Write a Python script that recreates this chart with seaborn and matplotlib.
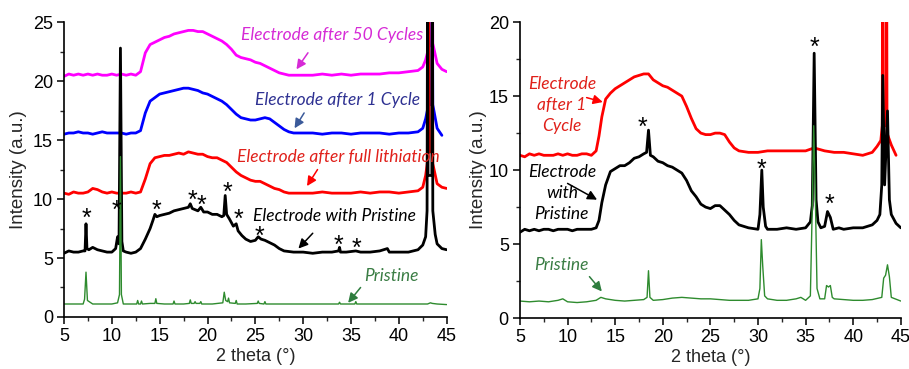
import matplotlib
matplotlib.use("Agg")
import matplotlib.pyplot as plt
import seaborn as sns
from matplotlib.ticker import MultipleLocator

# ---- left panel: XRD patterns (offset stacked) ----
lm_x = [5, 5.5, 6, 6.5, 7, 7.5, 8, 8.5, 9, 9.5, 10, 10.5, 11, 11.5, 12, 12.5,
        13, 13.5, 14, 14.5, 15, 15.5, 16, 16.5, 17, 17.5, 18, 18.5, 19, 19.5, 20, 20.5,
        21, 21.5, 22, 22.5, 23, 23.5, 24, 24.5, 25, 25.5, 26, 26.5, 27, 27.5, 28, 28.5, 29,
        30, 31, 32, 33, 34, 35, 36, 37, 38, 39, 40, 41, 42,
        42.5, 42.8, 43.05, 43.1, 43.15, 43.45, 43.5, 43.55, 44, 44.5, 45]
lm_y = [20.4, 20.6, 20.5, 20.6, 20.5, 20.6, 20.5, 20.6, 20.5, 20.5, 20.6, 20.5, 20.6, 20.5, 20.6, 20.5,
        20.8, 22.4, 23.1, 23.3, 23.5, 23.7, 23.8, 24.0, 24.1, 24.2, 24.3, 24.3, 24.2, 24.2, 24.0, 23.8,
        23.6, 23.4, 23.1, 22.7, 22.2, 22.0, 21.9, 21.8, 21.6, 21.5, 21.3, 21.1, 20.9, 20.7, 20.6, 20.5, 20.5,
        20.5, 20.5, 20.6, 20.5, 20.6, 20.5, 20.6, 20.6, 20.6, 20.7, 20.7, 20.8, 20.9,
        21.2, 21.8, 22.6, 30, 23.0, 23.0, 30, 23.2, 21.5, 21.0, 20.8]

lb_x = lm_x[:-1]
lb_y = [15.5, 15.6, 15.6, 15.7, 15.6, 15.6, 15.5, 15.6, 15.7, 15.6, 15.6, 15.6, 15.6, 15.5, 15.6, 15.6,
        15.8, 17.3, 18.3, 18.6, 18.9, 19.0, 19.1, 19.2, 19.3, 19.4, 19.4, 19.3, 19.2, 19.0, 18.9, 18.7,
        18.5, 18.3, 18.0, 17.6, 17.2, 16.9, 16.8, 16.7, 16.7, 16.8, 16.9, 16.8, 16.5, 16.2, 15.9, 15.7, 15.6,
        15.6, 15.6, 15.5, 15.6, 15.6, 15.5, 15.6, 15.6, 15.6, 15.5, 15.6, 15.6, 15.7,
        16.0, 16.8, 17.8, 30, 18.0, 18.0, 30, 18.0, 16.0, 15.4]

lr_x = lm_x
lr_y = [10.5, 10.4, 10.6, 10.5, 10.5, 10.6, 10.9, 10.8, 10.6, 10.5, 10.6, 10.5, 10.5, 10.5, 10.6, 10.5,
        10.6, 11.7, 13.0, 13.5, 13.6, 13.7, 13.7, 13.8, 13.9, 13.8, 14.0, 13.9, 13.8, 13.8, 13.6, 13.5,
        13.5, 13.3, 13.1, 12.7, 12.3, 12.0, 11.8, 11.6, 11.5, 11.5, 11.3, 11.1, 10.9, 10.8, 10.6, 10.5, 10.5,
        10.5, 10.5, 10.6, 10.5, 10.5, 10.5, 10.6, 10.5, 10.6, 10.6, 10.5, 10.6, 10.7,
        11.0, 12.0, 13.5, 30, 14.0, 14.0, 30, 13.0, 11.3, 11.0, 10.9]

lk_x = [5, 5.5, 6, 6.5, 7, 7.2, 7.3, 7.4, 7.6, 8, 8.5, 9, 9.5, 10, 10.4, 10.6, 10.75, 10.9,
        11.05, 11.2, 11.5, 12, 12.5, 13, 13.5, 14, 14.3, 14.5, 14.7, 15, 15.5, 16, 16.5, 17,
        17.5, 18, 18.2, 18.4, 19, 19.3, 19.6, 20, 20.5, 21, 21.5, 21.7, 21.85, 22.0, 22.3, 22.7,
        23.0, 23.2, 23.6, 24, 24.5, 25, 25.3, 25.6, 26, 26.5, 27, 27.5, 28, 29, 30, 31, 32, 33,
        33.7, 33.8, 33.9, 34.5, 35.5, 36, 37, 38, 38.8, 39, 40, 41, 42, 42.5, 42.8, 42.95, 43.0,
        43.05, 43.45, 43.5, 43.55, 43.8, 44.0, 44.5, 45]
lk_y = [5.4, 5.6, 5.5, 5.5, 5.6, 5.6, 7.9, 5.8, 5.7, 5.9, 5.7, 5.6, 5.5, 5.5, 5.8, 6.8, 6.2, 22.8,
        6.4, 5.6, 5.5, 5.4, 5.5, 5.8, 6.6, 7.5, 8.2, 8.7, 8.5, 8.6, 8.7, 8.8, 9.0, 9.1,
        9.2, 9.3, 9.6, 9.2, 9.0, 9.3, 8.9, 8.9, 8.7, 8.7, 8.5, 8.6, 10.3, 8.7, 8.3, 7.7,
        7.9, 7.3, 6.9, 6.6, 6.4, 6.5, 6.8, 6.6, 6.5, 6.3, 6.1, 5.8, 5.6, 5.5, 5.5, 5.4, 5.5, 5.5,
        5.6, 5.9, 5.5, 5.5, 5.6, 5.5, 5.5, 5.6, 5.8, 5.5, 5.5, 5.5, 5.7, 6.1, 6.8, 9.0, 30,
        12.0, 12.0, 30, 9.0, 7.0, 6.2, 5.8, 5.7]

lg_x = [5, 6, 7, 7.15, 7.3, 7.45, 8, 9, 10, 10.6, 10.8, 10.9, 11.0, 11.2, 12, 12.6, 12.7, 12.8,
        13.0, 13.1, 13.2, 14, 14.5, 14.6, 14.7, 15.5, 16.4, 16.5, 16.6, 17.5, 18.1, 18.2, 18.3,
        18.6, 18.7, 18.8, 19.2, 19.3, 19.4, 20.5, 21.6, 21.75, 21.9, 22.1, 22.2, 22.3, 22.9, 23.0,
        23.1, 24, 25.2, 25.3, 25.4, 25.9, 26.0, 26.1, 27, 28, 29, 30, 31, 32, 33.7, 33.8, 33.9,
        35.4, 35.5, 35.6, 37, 38.5, 40, 41, 42, 43, 43.3, 43.5, 44, 45]
lg_y = [1.1, 1.1, 1.1, 1.5, 3.8, 1.4, 1.1, 1.1, 1.1, 1.2, 1.9, 13.6, 1.9, 1.1, 1.1, 1.1, 1.4, 1.1,
        1.1, 1.35, 1.1, 1.15, 1.15, 1.55, 1.15, 1.1, 1.1, 1.35, 1.1, 1.1, 1.15, 1.45, 1.15,
        1.15, 1.3, 1.15, 1.15, 1.3, 1.1, 1.1, 1.2, 2.1, 1.4, 1.3, 1.6, 1.2, 1.15, 1.4,
        1.1, 1.1, 1.15, 1.35, 1.15, 1.1, 1.3, 1.1, 1.1, 1.1, 1.1, 1.1, 1.1, 1.1, 1.1, 1.25, 1.1,
        1.1, 1.3, 1.1, 1.1, 1.1, 1.1, 1.1, 1.1, 1.1, 1.2, 1.15, 1.1, 1.05]

left_stars_x = [7.4, 10.5, 14.7, 18.4, 19.4, 22.1, 23.2, 25.4, 33.7, 35.6]
left_stars_y = [8.9, 9.6, 9.6, 10.4, 10.0, 11.1, 8.8, 7.4, 6.6, 6.4]

# ---- right panel ----
rg_x = [5, 6, 7, 8, 9, 9.5, 10, 11, 12, 13, 13.5, 14, 15, 16, 17, 18, 18.35, 18.5, 18.65, 19,
        20, 21, 22, 23, 24, 25, 26, 27, 28, 29, 30, 30.2, 30.35, 30.5, 30.7, 31, 32, 33, 34, 34.5,
        35, 35.5, 35.7, 35.85, 36.0, 36.2, 36.5, 37, 37.2, 37.4, 37.6, 37.8, 38, 39, 40, 41, 42, 43,
        43.2, 43.4, 43.6, 43.8, 44, 45]
rg_y = [1.15, 1.1, 1.15, 1.1, 1.2, 1.3, 1.1, 1.05, 1.1, 1.2, 1.4, 1.3, 1.2, 1.15, 1.2, 1.25, 1.4, 3.2, 1.4, 1.2,
        1.25, 1.35, 1.4, 1.35, 1.3, 1.3, 1.25, 1.2, 1.2, 1.2, 1.3, 2.0, 5.3, 3.5, 1.5, 1.3, 1.2, 1.2, 1.3, 1.4,
        1.2, 1.5, 7.5, 13.0, 9.0, 2.0, 1.3, 1.3, 2.2, 2.1, 2.2, 1.4, 1.3, 1.25, 1.2, 1.2, 1.25, 1.4,
        2.7, 2.9, 3.6, 2.8, 1.4, 1.15]

rk_x = [5, 5.5, 6, 6.5, 7, 7.5, 8, 8.5, 9, 9.5, 10, 10.5, 11, 11.5, 12, 12.5, 13, 13.3, 13.6, 14,
        14.5, 15, 15.5, 16, 16.5, 17, 17.5, 18, 18.3, 18.5, 18.7, 19, 19.5, 20, 20.5, 21, 21.5, 22,
        22.5, 23, 23.5, 24, 24.5, 25, 25.5, 26, 26.5, 27, 27.5, 28, 28.5, 29, 30, 30.2, 30.4, 30.55,
        30.8, 31, 32, 33, 34, 35, 35.5, 35.7, 35.9, 36.1, 36.3, 36.6, 37, 37.3, 37.6, 37.9, 38.5, 39,
        40, 41, 42, 42.5, 42.8, 43.0, 43.1, 43.3, 43.6, 43.8, 44, 44.5, 45]
rk_y = [5.8, 6.0, 5.9, 6.0, 5.9, 6.0, 6.0, 5.9, 6.0, 6.0, 6.0, 5.9, 6.0, 6.0, 6.0, 6.0, 6.1, 6.6, 7.8, 9.0,
        9.9, 10.1, 10.3, 10.3, 10.5, 10.8, 10.9, 11.1, 11.2, 12.7, 11.0, 10.9, 10.6, 10.5, 10.3, 10.2, 10.0, 9.8,
        9.3, 8.6, 8.2, 7.7, 7.5, 7.4, 7.6, 7.6, 7.3, 7.0, 6.6, 6.3, 6.2, 6.1, 6.0, 7.0, 10.0, 7.5,
        6.2, 6.0, 6.0, 6.1, 6.0, 6.1, 6.5, 7.6, 17.9, 8.0, 6.5, 6.1, 6.2, 7.2, 6.8, 6.0, 6.1, 6.0,
        6.1, 6.1, 6.3, 6.6, 7.0, 9.0, 16.4, 9.0, 14.0, 8.0, 7.0, 6.4, 6.1]

rr_x = [5, 5.5, 6, 6.5, 7, 7.5, 8, 8.5, 9, 9.5, 10, 10.5, 11, 11.5, 12, 12.5, 13, 13.3, 13.6, 14,
        14.5, 15, 15.5, 16, 16.5, 17, 17.5, 18, 18.5, 19, 19.5, 20, 20.5, 21, 21.5, 22, 22.5, 23, 23.5, 24,
        24.5, 25, 25.5, 26, 26.5, 27, 27.5, 28, 29, 30, 31, 32, 33, 34, 35, 35.9, 37, 38, 39, 40,
        41, 42, 42.5, 42.9, 43.05, 43.1, 43.15, 43.45, 43.5, 43.55, 44, 44.5]
rr_y = [11.0, 10.9, 11.1, 11.0, 11.1, 11.0, 11.0, 11.0, 11.1, 11.0, 11.1, 11.0, 11.0, 11.1, 11.1, 11.0, 11.3, 12.3, 13.6, 14.8,
        15.2, 15.5, 15.7, 15.9, 16.1, 16.3, 16.4, 16.5, 16.5, 16.1, 15.9, 15.7, 15.6, 15.4, 15.2, 15.0, 14.3, 13.5, 12.8, 12.5,
        12.4, 12.4, 12.5, 12.5, 12.4, 11.9, 11.5, 11.3, 11.2, 11.2, 11.3, 11.3, 11.3, 11.3, 11.3, 11.5, 11.3, 11.2, 11.2, 11.1,
        11.0, 11.2, 11.6, 12.0, 13.0, 30, 13.0, 13.0, 30, 12.5, 11.7, 11.0]

right_stars_x = [17.9, 30.4, 35.9, 37.5]
right_stars_y = [13.3, 10.5, 18.7, 8.1]

MAGENTA, BLUE, RED, GREEN = "#ff00ff", "#0000ff", "#ff0000", "#2e8b2e"

sns.set_style("ticks")
plt.rcParams["font.family"] = ["Liberation Sans", "DejaVu Sans"]

fig = plt.figure(figsize=(9.09, 3.69), dpi=100)
ax1 = fig.add_axes([0.0704, 0.141, 0.421, 0.799])
ax2 = fig.add_axes([0.572, 0.138, 0.419, 0.802])


def trace(ax, x, y, color, lw=2.0):
    sns.lineplot(x=x, y=y, ax=ax, color=color, lw=lw, estimator=None, sort=False)


def label(ax, s, xy, color, tail, head, arrow_color=None, **kw):
    ax.text(xy[0], xy[1], s, color=color, ha="center", va="center", style="italic",
            family=["Lato", "DejaVu Sans"], fontsize=12.5, linespacing=1.35, **kw)
    ax.annotate("", xy=head, xytext=tail,
                arrowprops=dict(arrowstyle="-|>", color=arrow_color or color, lw=1.1,
                                mutation_scale=14, shrinkA=0, shrinkB=0))


def stars(ax, xs, ys):
    for x, y in zip(xs, ys):
        ax.annotate("*", (x, y), xytext=(0, -10), textcoords="offset points",
                    ha="center", va="baseline", fontsize=18, color="black")


trace(ax1, lm_x, lm_y, MAGENTA)
trace(ax1, lb_x, lb_y, BLUE)
trace(ax1, lr_x, lr_y, RED)
trace(ax1, lk_x, lk_y, "black")
trace(ax1, lg_x, lg_y, GREEN, lw=1.0)

label(ax1, "Electrode after 50 Cycles", (33.0, 23.9), "#d62ad6", (30.5, 22.4), (29.3, 21.0))
label(ax1, "Electrode after 1 Cycle", (33.6, 18.4), "#2e3192", (30.1, 17.3), (29.1, 16.0), "#3b5a9a")
label(ax1, "Electrode after full lithiation", (33.7, 13.6), "#e0201a", (31.5, 12.5), (30.4, 11.1), RED)
label(ax1, "Electrode with Pristine", (33.3, 8.6), "black", (31.0, 7.1), (29.5, 5.8))
label(ax1, "Pristine", (39.2, 3.5), "#3a7d44", (36.0, 2.5), (34.7, 1.2), "#2e7d3e")
stars(ax1, left_stars_x, left_stars_y)

trace(ax2, rr_x, rr_y, RED)
trace(ax2, rk_x, rk_y, "black")
trace(ax2, rg_x, rg_y, GREEN, lw=1.0)

label(ax2, "Electrode\nafter 1\nCycle", (9.4, 14.4), "#e0201a", (12.0, 14.9), (13.7, 14.6), RED)
label(ax2, "Electrode\nwith\nPristine", (9.4, 8.45), "black", (10.0, 9.1), (13.1, 8.0))
label(ax2, "Pristine", (9.4, 3.6), "#3a7d44", (12.3, 2.8), (13.6, 1.8), "#2e7d3e")
stars(ax2, right_stars_x, right_stars_y)

for ax, top, pad in ((ax1, 25, 4), (ax2, 20, 1)):
    ax.set_xlim(5, 45)
    ax.set_ylim(0, top)
    ax.xaxis.set_major_locator(MultipleLocator(5))
    ax.xaxis.set_minor_locator(MultipleLocator(2.5))
    ax.yaxis.set_major_locator(MultipleLocator(5))
    ax.yaxis.set_minor_locator(MultipleLocator(2.5))
    ax.tick_params(which="major", direction="out", length=5, width=1.1, labelsize=13, pad=3, colors="black")
    ax.tick_params(which="minor", direction="out", length=3, width=1.0)
    ax.set_xlabel("2 theta (°)", fontsize=13, labelpad=2)
    ax.set_ylabel("Intensity (a.u.)", fontsize=13.5, labelpad=pad)
    for s in ("left", "bottom"):
        ax.spines[s].set_linewidth(1.2)
        ax.spines[s].set_color("black")
    sns.despine(ax=ax)

fig.savefig("out.png", dpi=100)
